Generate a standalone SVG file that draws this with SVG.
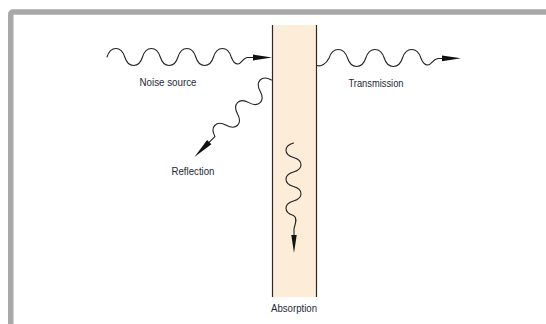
<svg xmlns="http://www.w3.org/2000/svg" width="546" height="324" viewBox="0 0 546 324">
<style>
.wave{fill:none;stroke:#222;stroke-width:1.1;stroke-linejoin:round;stroke-linecap:round}
.head{fill:#111}
.lbl{font-family:"Liberation Sans",Arial,sans-serif;font-size:11px;fill:#1e2a36;text-anchor:middle}
</style>
<rect x="0" y="0" width="546" height="324" fill="#fff"/>
<rect id="frame" x="10.75" y="12" width="600" height="400" rx="2" fill="#fff" stroke="#a8a8a8" stroke-width="5.5"/>
<g id="absorber">
<rect x="272" y="25" width="45" height="272" fill="#fdecd8"/>
<line x1="272.5" y1="25" x2="272.5" y2="297" stroke="#2a2a2a" stroke-width="1.2"/>
<line x1="316.5" y1="25" x2="316.5" y2="297" stroke="#2a2a2a" stroke-width="1.2"/>
</g>
<g id="connectors">
<g id="incoming">
<path class="wave" d="M107,57 C110.55,45.67 121.2,45.67 124.75,57 C128.3,68.33 138.95,68.33 142.5,57 C146.05,45.67 156.7,45.67 160.25,57 C163.8,68.33 174.45,68.33 178,57 C181.55,45.67 192.2,45.67 195.75,57 C199.3,68.33 209.95,68.33 213.5,57 C217.05,45.67 227.7,45.67 231.25,57 C233,62 235,64 238,64 C241.5,64 243,58 247,57.5 L254,57.5"/>
<polygon class="head" points="272,57.5 253,54.6 253,60.4"/>
</g>
<g id="transmitted">
<path class="wave" d="M317,65.5 C321,67 326,64 329.1,58 C332.77,46.67 343.83,46.67 347.5,58 C351.17,69.33 362.13,69.33 365.8,58 C369.47,46.67 380.53,46.67 384.2,58 C387.87,69.33 398.83,69.33 402.5,58 C406.17,46.67 417.23,46.67 420.9,58 C422.5,62.5 425,65 428,65 C431.5,65 433,59 438,58.5 L443,58.5"/>
<polygon class="head" points="461,58.3 442,55.4 442,61.2"/>
</g>
<g id="reflected" transform="translate(271.5,80) rotate(135)">
<path class="wave" d="M0,0 C3.2,10.67 12.8,10.67 16,0 C19.2,-10.67 28.8,-10.67 32,0 C35.2,10.67 44.8,10.67 48,0 C51.2,-10.67 60.8,-10.67 64,0 C67.2,10.67 76.8,10.67 80,0 L89,0"/>
<polygon class="head" points="109,0 88,-3 88,3"/>
</g>
<g id="absorbed" transform="translate(293.5,143) rotate(90)">
<path class="wave" d="M0,0 C2.9,10 11.6,10 14.5,0 C17.4,-10 26.1,-10 29,0 C31.9,10 40.6,10 43.5,0 C46.4,-10 55.1,-10 58,0 C60.9,10 69.6,10 72.5,0 C75.5,-5 82,-1 86,-0.5 L93,-0.5"/>
<polygon class="head" points="110,-0.5 92,-3.2 92,2.2"/>
</g>
</g>
<g id="label-noise"><text class="lbl" x="168" y="86" textLength="57" lengthAdjust="spacingAndGlyphs">Noise source</text></g>
<g id="label-transmission"><text class="lbl" x="376" y="87" textLength="55" lengthAdjust="spacingAndGlyphs">Transmission</text></g>
<g id="label-reflection"><text class="lbl" x="193" y="175" textLength="43" lengthAdjust="spacingAndGlyphs">Reflection</text></g>
<g id="label-absorption"><text class="lbl" x="294" y="312" textLength="46" lengthAdjust="spacingAndGlyphs">Absorption</text></g>
</svg>
